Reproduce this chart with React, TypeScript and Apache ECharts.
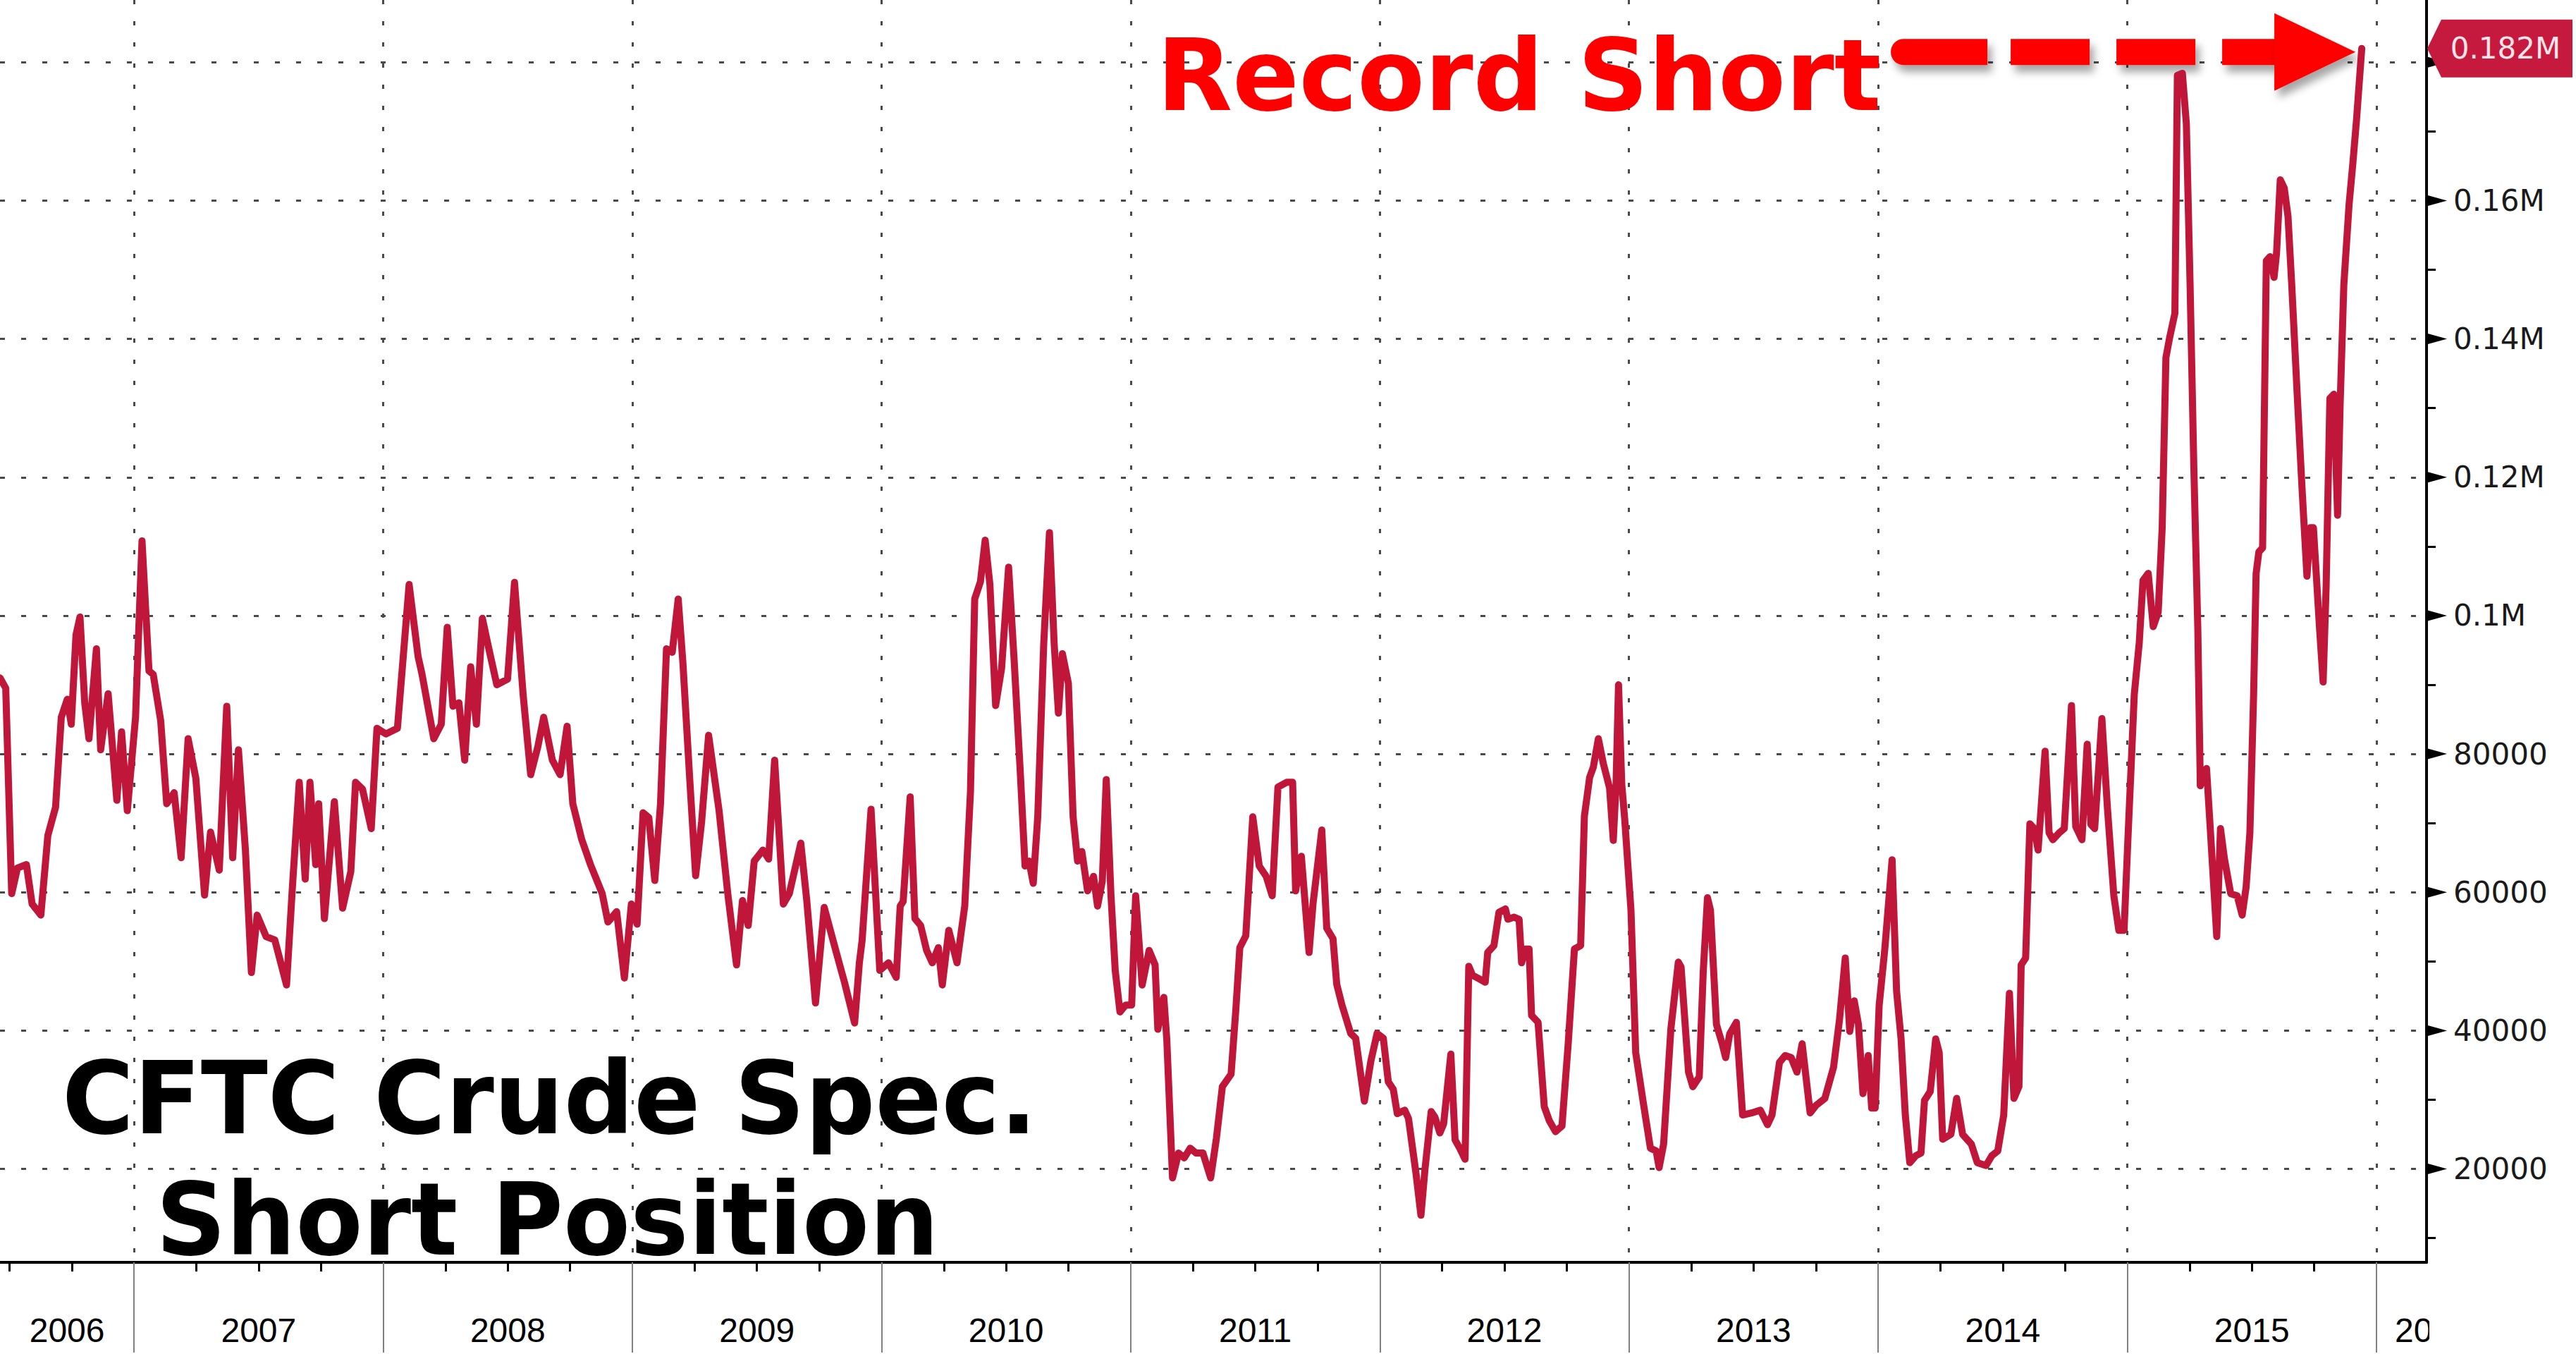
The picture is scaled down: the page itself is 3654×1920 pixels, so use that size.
import React, { useEffect, useRef } from "react";
import * as echarts from "echarts";

// Decimal-year position of each reading (weekly CFTC report dates, sampled)
const reportYears: number[] = [
  2006.462, 2006.485, 2006.509, 2006.532, 2006.568, 2006.591, 2006.626, 2006.654, 2006.685, 2006.708,
  2006.732, 2006.748, 2006.767, 2006.783, 2006.802, 2006.819, 2006.849, 2006.866, 2006.896, 2006.931,
  2006.95, 2006.973, 2007.006, 2007.032, 2007.06, 2007.077, 2007.107, 2007.131, 2007.161, 2007.189,
  2007.217, 2007.248, 2007.283, 2007.307, 2007.342, 2007.372, 2007.396, 2007.419, 2007.447, 2007.471,
  2007.494, 2007.53, 2007.565, 2007.612, 2007.635, 2007.663, 2007.687, 2007.706, 2007.729, 2007.741,
  2007.764, 2007.804, 2007.837, 2007.87, 2007.889, 2007.917, 2007.952, 2007.975, 2008.011, 2008.057,
  2008.104, 2008.14, 2008.156, 2008.203, 2008.233, 2008.257, 2008.28, 2008.304, 2008.327, 2008.351,
  2008.374, 2008.398, 2008.421, 2008.456, 2008.499, 2008.527, 2008.562, 2008.592, 2008.621, 2008.644,
  2008.679, 2008.71, 2008.738, 2008.761, 2008.797, 2008.832, 2008.879, 2008.902, 2008.937, 2008.968,
  2008.996, 2009.019, 2009.043, 2009.066, 2009.09, 2009.113, 2009.137, 2009.16, 2009.184, 2009.203,
  2009.231, 2009.254, 2009.278, 2009.306, 2009.348, 2009.383, 2009.418, 2009.442, 2009.465, 2009.489,
  2009.524, 2009.547, 2009.571, 2009.606, 2009.63, 2009.676, 2009.7, 2009.735, 2009.77, 2009.817,
  2009.852, 2009.892,
  2009.911, 2009.922, 2009.958, 2009.993, 2010.028, 2010.059, 2010.075, 2010.087, 2010.115, 2010.134,
  2010.157, 2010.181, 2010.204, 2010.228, 2010.244, 2010.27, 2010.303, 2010.334, 2010.357, 2010.374,
  2010.397, 2010.416, 2010.435, 2010.458, 2010.482, 2010.51, 2010.533, 2010.557, 2010.576, 2010.592,
  2010.609, 2010.627, 2010.651, 2010.674, 2010.693, 2010.71, 2010.726, 2010.75, 2010.769, 2010.787,
  2010.804, 2010.827, 2010.851, 2010.867, 2010.886, 2010.902, 2010.921, 2010.938, 2010.957, 2010.98,
  2011.004, 2011.02, 2011.046, 2011.074, 2011.098, 2011.109, 2011.133, 2011.145, 2011.168, 2011.192,
  2011.215, 2011.239, 2011.262, 2011.29, 2011.321, 2011.344, 2011.368, 2011.403, 2011.422, 2011.438,
  2011.462, 2011.49, 2011.516, 2011.544, 2011.568, 2011.591, 2011.626, 2011.65, 2011.662, 2011.685,
  2011.716, 2011.732, 2011.767, 2011.787, 2011.812, 2011.827, 2011.848, 2011.883, 2011.903, 2011.938,
  2011.964, 2011.989, 2012.014, 2012.034, 2012.054, 2012.07, 2012.1, 2012.115, 2012.145, 2012.165,
  2012.181, 2012.206, 2012.221, 2012.241, 2012.256, 2012.285, 2012.302, 2012.322, 2012.342, 2012.357,
  2012.372, 2012.398, 2012.423, 2012.433, 2012.458, 2012.478, 2012.504, 2012.514, 2012.539, 2012.559,
  2012.569, 2012.584, 2012.599, 2012.609, 2012.635, 2012.66, 2012.68, 2012.705, 2012.731, 2012.756,
  2012.781, 2012.806, 2012.821, 2012.842, 2012.857, 2012.877, 2012.897, 2012.922, 2012.937, 2012.948,
  2012.958, 2012.971, 2012.983, 2013.008,
  2013.027, 2013.056, 2013.086, 2013.109, 2013.121, 2013.139, 2013.168, 2013.198, 2013.209, 2013.239,
  2013.256, 2013.282, 2013.298, 2013.315, 2013.327, 2013.351, 2013.374, 2013.388, 2013.404, 2013.431,
  2013.456, 2013.492, 2013.527, 2013.556, 2013.574, 2013.604, 2013.627, 2013.651, 2013.674, 2013.695,
  2013.727, 2013.751, 2013.786, 2013.821, 2013.845, 2013.868, 2013.886, 2013.904, 2013.921, 2013.939,
  2013.96, 2013.974, 2013.988, 2014.004, 2014.027, 2014.056, 2014.074, 2014.092, 2014.109, 2014.127,
  2014.151, 2014.172, 2014.186, 2014.209, 2014.231, 2014.245, 2014.259, 2014.292, 2014.315, 2014.339,
  2014.374, 2014.398, 2014.433, 2014.456, 2014.48, 2014.504, 2014.527, 2014.545, 2014.565, 2014.574,
  2014.592, 2014.609, 2014.627, 2014.642,
  2014.67, 2014.686, 2014.701, 2014.727, 2014.747, 2014.776, 2014.793, 2014.818, 2014.839, 2014.854,
  2014.869, 2014.898, 2014.92, 2014.946, 2014.966, 2014.987, 2015.002, 2015.028, 2015.048, 2015.063,
  2015.084, 2015.104, 2015.124, 2015.14, 2015.155, 2015.17, 2015.191, 2015.201, 2015.221, 2015.237,
  2015.252, 2015.267, 2015.283, 2015.293, 2015.318, 2015.334, 2015.359, 2015.374, 2015.39, 2015.415,
  2015.441, 2015.461, 2015.477, 2015.492, 2015.507, 2015.517, 2015.528, 2015.543, 2015.558, 2015.573,
  2015.589, 2015.599, 2015.614, 2015.63, 2015.645, 2015.66, 2015.681, 2015.701, 2015.721, 2015.735,
  2015.747, 2015.772, 2015.786, 2015.798, 2015.813, 2015.829, 2015.844, 2015.854, 2015.869, 2015.89,
  2015.905, 2015.92, 2015.941,
];

// CFTC crude oil speculative short position (contracts)
const specShorts: number[] = [
  91000, 89500, 59800, 63500, 64000, 58300, 56700, 68200, 72300, 85300,
  87900, 84300, 97200, 99800, 87400, 82200, 95200, 80600, 88700, 73300,
  83200, 71800, 85300, 110800, 92000, 91500, 84800, 72800, 74400, 65000,
  82200, 76500, 59600, 68700, 63200, 86900, 65000, 80600, 66100, 48400,
  56700, 53600, 53100, 46600, 60400, 75900, 61900, 75900, 64000, 72800,
  56200, 73100, 57700, 63000, 75900, 74900, 69200, 83700, 82900, 83700,
  104500, 94100, 91500, 82200, 84300, 98300, 86900, 87400, 79100, 92600,
  84300, 99600, 95700, 90000, 90800, 104800, 88400, 77000, 81100, 85300,
  79100, 77000, 84000, 72800, 67600, 64000, 59800, 55700, 57200, 47600,
  58300, 55400, 71500, 70800, 61700, 72800, 95200, 94700, 102400, 93100,
  75900, 62400, 70200, 82700, 71800, 59800, 49500, 58800, 55200, 64500,
  66100, 64800, 79100, 58300, 59800, 67100, 58800, 44000, 57800, 51500,
  46900, 41100,
  49800, 53000, 72000, 48700, 49800, 47700, 58000, 58700, 73800, 56200,
  55200, 51600, 49800, 52000, 46600, 54500, 49800, 58000, 74500, 102400,
  104900, 110900, 104500, 87000, 92400, 107000, 93100, 77300, 63800, 64500,
  61300, 70900, 95900, 112000, 95900, 85900, 94500, 90200, 70900, 64500,
  65900, 60200, 62300, 58000, 61600, 76300, 59500, 48700, 42700, 43700,
  43700, 59500, 46600, 51600, 49500, 40200, 44800, 38700, 18700, 22300,
  21600, 23000, 22300, 22300, 18700, 24400, 31900, 33700, 43000, 52000,
  53700, 70900, 63800, 62300, 59500, 75200, 75900, 75900, 60200, 65200,
  51300, 58400, 69000, 54800, 53300, 46700, 43700, 39600, 38900, 29800,
  35600, 39600, 38900, 32600, 31500, 28000, 28500, 27300, 19400, 13300,
  19900, 28300, 27500, 25200, 26500, 36600, 24200, 22900, 21400, 49300,
  48000, 47500, 47000, 51300, 52300, 57100, 57600, 56100, 56400, 56100,
  49800, 51800, 51800, 42200, 41200, 29000, 27000, 25400, 26200, 38100,
  51800, 52300, 71000, 76600, 78100, 82200, 78600, 75100, 67500, 75600,
  90000, 75600, 70500, 57400,
  36800, 29900, 23000, 22600, 20200, 23600, 40200, 49900, 49200, 34000,
  31900, 33300, 48500, 59200, 57400, 40900, 38100, 36100, 39500, 41200,
  27800, 28100, 28500, 26400, 27800, 35400, 36400, 36100, 34000, 38100,
  28100, 29200, 30200, 34700, 41600, 50500, 39900, 44300, 40900, 30900,
  36400, 28800, 28800, 43600, 51900, 64700, 45700, 38800, 27800, 20900,
  21900, 22300, 29900, 31200, 38800, 36800, 24300, 25000, 30200, 25000,
  23600, 20900, 20500, 21900, 22600, 27800, 45400, 30200, 31900, 49500,
  50500, 69900, 69200, 66100,
  80400, 68600, 67600, 68600, 69200, 87000, 69500, 67600, 81400, 69800,
  69200, 85100, 72300, 59500, 54500, 54500, 67300, 88600, 96100, 105100,
  106100, 98400, 100500, 112700, 137300, 140200, 143700, 178100, 178400, 171100,
  147800, 121500, 98100, 75400, 77900, 68600, 53600, 69200, 64800, 59800,
  59500, 56700, 60800, 68600, 88600, 106100, 109200, 109800, 151300, 151900,
  148900, 152400, 163000, 161800, 157700, 147800, 132600, 118600, 105700, 112700,
  112700, 97900, 90400, 104200, 131400, 132000, 114500, 130300, 147800, 159400,
  165300, 171700, 182000,
];

const yTickValues: number[] = [20000, 40000, 60000, 80000, 100000, 120000, 140000, 160000, 180000];
const yLabelValues: number[] = [20000, 40000, 60000, 80000, 100000, 120000, 140000, 160000];
const yMinorTickValues: number[] = [10000, 30000, 50000, 70000, 90000, 110000, 130000, 150000, 170000];
const yearBoundaries: number[] = [2007, 2008, 2009, 2010, 2011, 2012, 2013, 2014, 2015, 2016];
const yearLabelPositions: number[] = [2006.731, 2007.5, 2008.5, 2009.5, 2010.5, 2011.5, 2012.5, 2013.5, 2014.5, 2015.5];
const clippedYearLabel = "2016";
const calloutText = "Record Short";
const titleLines: string[] = ["CFTC Crude Spec.", "Short Position"];

const X_MIN = 2006.462;
const X_MAX = 2016.201;
const Y_MIN = 6500;
const Y_MAX = 189000;

const LINE_COLOR = "#c0163a";
const GRID_COLOR = "#4a4a4a";

function fmtY(v: number): string {
  if (v >= 100000) return String(Math.round(v / 1000) / 1000) + "M";
  return String(v);
}

export default function App() {
  const ref = useRef<HTMLDivElement>(null);

  useEffect(() => {
    if (!ref.current) return;
    const chart = echarts.init(ref.current, null, { renderer: "svg" });

    const quarterTicks: number[] = [];
    for (let y = 2006; y <= 2016; y++) {
      [0.25, 0.5, 0.75].forEach((q) => {
        const v = y + q;
        if (v > X_MIN && v < X_MAX) quarterTicks.push(v);
      });
    }

    const seriesData = reportYears.map((yr, i) => [yr, specShorts[i]]);

    chart.setOption({
      animation: false,
      backgroundColor: "#ffffff",
      grid: { left: 0, right: 212, top: 0, bottom: 130, containLabel: false, outerBoundsMode: "none" },
      xAxis: [
        {
          type: "value",
          min: X_MIN,
          max: X_MAX,
          position: "bottom",
          axisLine: { show: true, onZero: false, lineStyle: { color: "#000000", width: 4 } },
          axisTick: { show: true, customValues: quarterTicks, length: 13, lineStyle: { color: "#000000", width: 3 } },
          axisLabel: {
            show: true,
            customValues: yearLabelPositions,
            formatter: (v: number) => String(Math.floor(v)),
            margin: 72,
            fontSize: 48,
            lineHeight: 48,
            fontFamily: "'Liberation Sans', Arial, sans-serif",
            color: "#000000",
          },
          splitLine: { show: false },
        },
        {
          type: "value",
          min: X_MIN,
          max: X_MAX,
          position: "bottom",
          axisLine: { show: false, onZero: false },
          axisTick: { show: true, customValues: yearBoundaries, length: 128, lineStyle: { color: "#808080", width: 2 } },
          axisLabel: { show: false },
          splitLine: { show: true, lineStyle: { color: GRID_COLOR, width: 3, type: [6, 24] } },
        },
      ],
      yAxis: [
        {
          type: "value",
          min: Y_MIN,
          max: Y_MAX,
          position: "right",
          axisLine: { show: true, onZero: false, lineStyle: { color: "#000000", width: 4 } },
          axisTick: { show: false, customValues: yTickValues },
          axisLabel: {
            show: true,
            customValues: yLabelValues,
            formatter: (v: number) => fmtY(v),
            margin: 38,
            fontSize: 42,
            fontFamily: "'DejaVu Sans', Verdana, sans-serif",
            color: "#1a1a1a",
          },
          splitLine: { show: true, lineStyle: { color: GRID_COLOR, width: 3, type: [7, 23] } },
        },
        {
          type: "value",
          min: Y_MIN,
          max: Y_MAX,
          position: "right",
          axisLine: { show: false, onZero: false },
          axisTick: { show: true, customValues: yMinorTickValues, length: 13, lineStyle: { color: "#000000", width: 3 } },
          axisLabel: { show: false },
          splitLine: { show: false },
        },
      ],
      series: [
        {
          type: "line",
          xAxisIndex: 0,
          yAxisIndex: 0,
          data: seriesData,
          showSymbol: false,
          symbol: "none",
          z: 5,
          lineStyle: { color: LINE_COLOR, width: 10, join: "round", cap: "round" },
        },
      ],
    });

    const toPx = (x: number, y: number): number[] =>
      chart.convertToPixel({ xAxisIndex: 0, yAxisIndex: 0 }, [x, y]) as number[];

    const graphics: any[] = [];
    const axisX = toPx(X_MAX, Y_MIN)[0];
    const axisY = toPx(X_MAX, Y_MIN)[1];

    // triangle major ticks on the right axis
    yTickValues.forEach((v) => {
      const py = toPx(X_MAX, v)[1];
      graphics.push({
        type: "polygon",
        z: 10,
        silent: true,
        shape: { points: [[axisX, py - 8], [axisX, py + 8], [axisX + 29, py]] },
        style: { fill: "#000000" },
      });
    });

    // last value tag
    const lastIdx = specShorts.length - 1;
    const lastVal = specShorts[lastIdx];
    const tagY = toPx(X_MAX, lastVal)[1];
    graphics.push({
      type: "polygon",
      z: 12,
      silent: true,
      shape: {
        points: [
          [axisX + 1, tagY],
          [axisX + 21, tagY - 41],
          [axisX + 207, tagY - 41],
          [axisX + 207, tagY + 41],
          [axisX + 21, tagY + 41],
        ],
      },
      style: { fill: "#c51a3d" },
    });
    graphics.push({
      type: "text",
      z: 13,
      silent: true,
      x: axisX + 112,
      y: tagY,
      style: {
        text: (Math.round(lastVal / 1000) / 1000).toFixed(3) + "M",
        fill: "#fde4ea",
        fontSize: 42,
        fontFamily: "'DejaVu Sans', Verdana, sans-serif",
        align: "center",
        verticalAlign: "middle",
        textAlign: "center",
        textVerticalAlign: "middle",
      },
    });

    // dashed arrow pointing at the last value
    const endPt = toPx(reportYears[lastIdx], lastVal);
    const tipX = endPt[0] - 9;
    const tipY = endPt[1] + 5;
    const arrowStyle = {
      fill: "#ff0000",
      shadowBlur: 12,
      shadowOffsetX: 6,
      shadowOffsetY: 10,
      shadowColor: "rgba(0,0,0,0.35)",
    };
    graphics.push({
      type: "group",
      x: tipX,
      y: tipY,
      z: 11,
      silent: true,
      children: [
        { type: "rect", shape: { x: -659, y: -18.5, width: 137, height: 37, r: [18, 0, 0, 18] }, style: arrowStyle },
        { type: "rect", shape: { x: -489, y: -18.5, width: 112, height: 37 }, style: arrowStyle },
        { type: "rect", shape: { x: -339, y: -18.5, width: 112, height: 37 }, style: arrowStyle },
        { type: "rect", shape: { x: -189, y: -18.5, width: 78, height: 37 }, style: arrowStyle },
        { type: "polygon", shape: { points: [[-115, -55], [0, 0], [-115, 55]] }, style: arrowStyle },
      ],
    });

    const boldFont = "'DejaVu Sans', Verdana, sans-serif";
    graphics.push({
      type: "text",
      z: 11,
      silent: true,
      x: 1641,
      y: 107,
      scaleX: 0.995,
      style: {
        text: calloutText,
        fill: "#ff0000",
        fontSize: 140,
        fontWeight: "bold",
        fontFamily: boldFont,
        align: "left",
        verticalAlign: "middle",
        textAlign: "left",
        textVerticalAlign: "middle",
      },
    });
    const titleYs = [1558, 1730];
    const titleXs = [88, 221];
    const titleScales = [0.979, 0.976];
    titleLines.forEach((t, i) => {
      graphics.push({
        type: "text",
        z: 11,
        silent: true,
        x: titleXs[i],
        y: titleYs[i],
        scaleX: titleScales[i],
        style: {
          text: t,
          fill: "#000000",
          fontSize: 142,
          fontWeight: "bold",
          fontFamily: boldFont,
          align: "left",
          verticalAlign: "middle",
          textAlign: "left",
          textVerticalAlign: "middle",
        },
      });
    });

    // clipped year label beyond the last boundary
    const lastBoundaryX = toPx(yearBoundaries[yearBoundaries.length - 1], Y_MIN)[0];
    graphics.push({
      type: "text",
      z: 14,
      silent: true,
      x: lastBoundaryX + 26,
      y: axisY + 96,
      style: {
        text: clippedYearLabel,
        fill: "#000000",
        fontSize: 48,
        fontFamily: "'Liberation Sans', Arial, sans-serif",
        align: "left",
        verticalAlign: "middle",
        textAlign: "left",
        textVerticalAlign: "middle",
      },
    });
    graphics.push({
      type: "rect",
      z: 15,
      silent: true,
      shape: { x: axisX + 4, y: axisY + 6, width: 400, height: 200 },
      style: { fill: "#ffffff" },
    });

    chart.setOption({ graphic: graphics });

    return () => {
      chart.dispose();
    };
  }, []);

  return (
    <div
      ref={ref}
      style={{ position: "absolute", left: 0, top: 0, width: 3654, height: 1920, background: "#ffffff" }}
    />
  );
}
